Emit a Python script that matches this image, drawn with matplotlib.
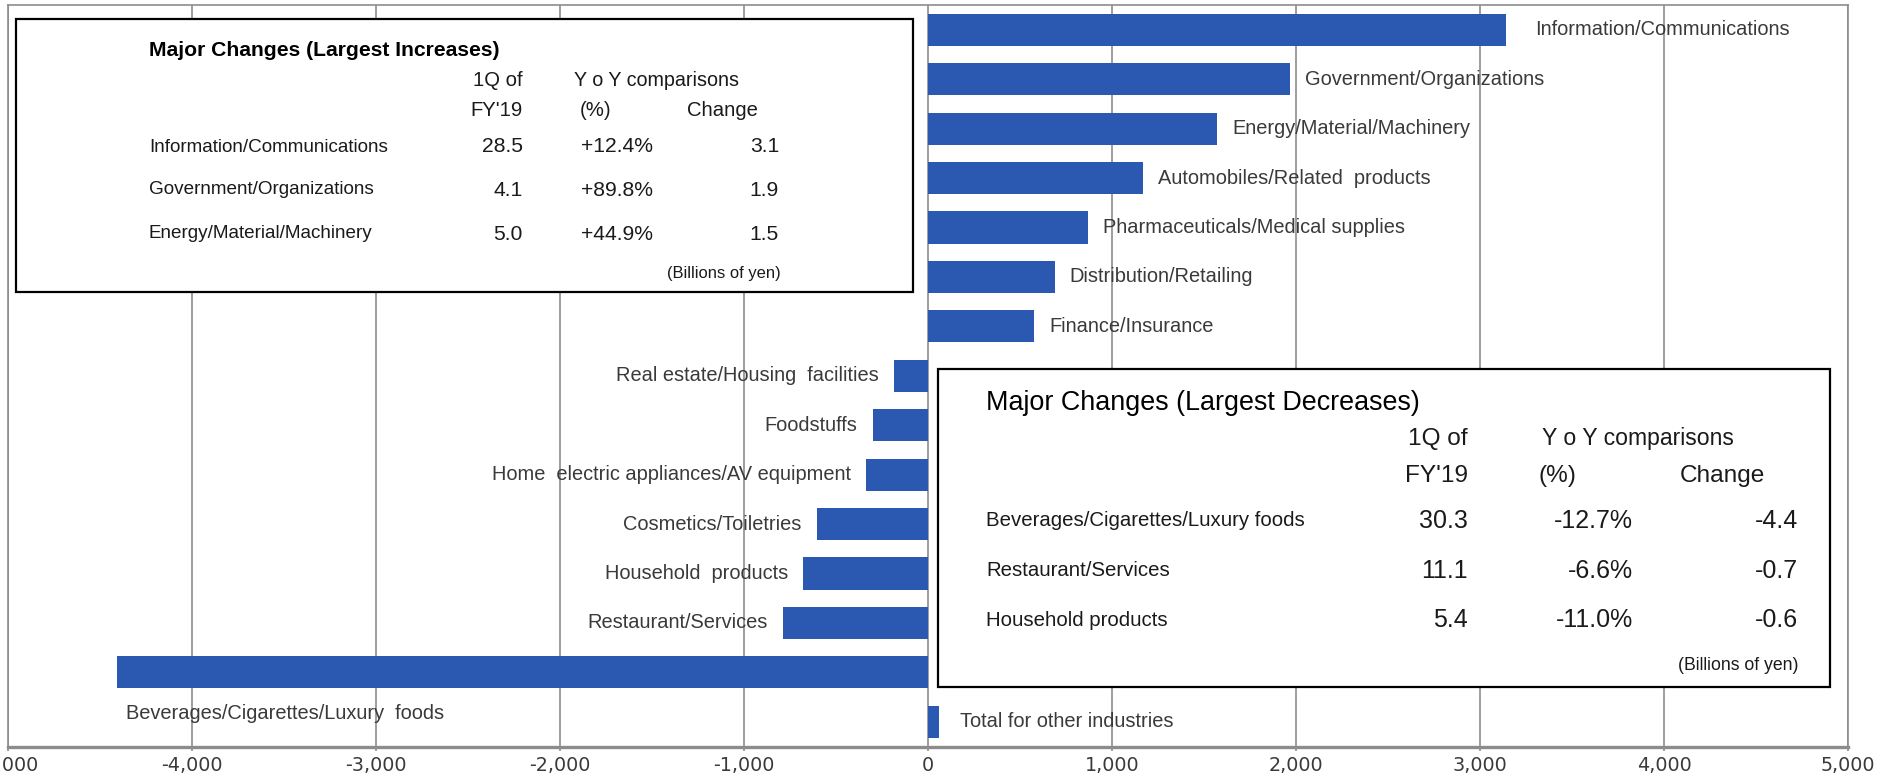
import matplotlib
matplotlib.use("Agg")
import matplotlib.pyplot as plt
from matplotlib.patches import Rectangle
from matplotlib.ticker import FuncFormatter, MultipleLocator

# industry changes vs. previous year (millions of yen)
industries = [
    "Information/Communications",
    "Government/Organizations",
    "Energy/Material/Machinery",
    "Automobiles/Related  products",
    "Pharmaceuticals/Medical supplies",
    "Distribution/Retailing",
    "Finance/Insurance",
    "Real estate/Housing  facilities",
    "Foodstuffs",
    "Home  electric appliances/AV equipment",
    "Cosmetics/Toiletries",
    "Household  products",
    "Restaurant/Services",
    "Beverages/Cigarettes/Luxury  foods",
    "Total for other industries",
]
changes = [3141, 1967, 1573, 1167, 872, 689, 577,
           -185, -299, -337, -603, -679, -788, -4408, 58]

# summary tables (billions of yen)
inc_names = ["Information/Communications", "Government/Organizations", "Energy/Material/Machinery"]
inc_q1 = [28.5, 4.1, 5.0]
inc_yoy = [12.4, 89.8, 44.9]
inc_chg = [3.1, 1.9, 1.5]

dec_names = ["Beverages/Cigarettes/Luxury foods", "Restaurant/Services", "Household products"]
dec_q1 = [30.3, 11.1, 5.4]
dec_yoy = [-12.7, -6.6, -11.0]
dec_chg = [-4.4, -0.7, -0.6]

W, H = 1878, 776
BAR = "#2b58b1"
GRID = "#8c8c8c"
TXT = "#3a3a3a"
LAB = "Liberation Sans"

fig = plt.figure(figsize=(W / 100, H / 100), dpi=100)
ax = fig.add_axes([8 / W, 1 - 746.5 / H, 1840 / W, 741.5 / H])

pos = list(range(len(industries)))
ax.barh(pos, changes, height=0.65, color=BAR, zorder=2)
ax.set_ylim(len(industries) - 0.5, -0.5)
ax.set_xlim(-5000, 5000)
ax.set_yticks([])
ax.xaxis.set_major_locator(MultipleLocator(1000))
ax.xaxis.set_major_formatter(FuncFormatter(lambda v, p: f"{v:,.0f}"))
ax.tick_params(axis="x", direction="out", length=3, width=1.2, color=GRID,
               labelsize=13.8, labelcolor=TXT, pad=4)
for t in ax.get_xticklabels():
    t.set_family("DejaVu Sans")
ax.grid(axis="x", color=GRID, lw=1.2, zorder=0)
ax.set_axisbelow(True)
for s in ["left", "top", "right"]:
    ax.spines[s].set_color(GRID)
    ax.spines[s].set_linewidth(1.2)
ax.spines["bottom"].set_color(GRID)
ax.spines["bottom"].set_linewidth(2.4)

# bar labels
last = len(industries) - 1
for i, (name, v) in enumerate(zip(industries, changes)):
    if name.startswith("Beverages"):
        ax.annotate(name, (v, i), xytext=(6.5, -29.5), textcoords="offset points",
                    ha="left", va="center", fontsize=14.4, family=LAB, color=TXT)
    elif v >= 0:
        gap = 21 if i == 0 else (15 if i == last else 10.8)
        ax.annotate(name, (v, i), xytext=(gap, 0), textcoords="offset points",
                    ha="left", va="center", fontsize=14.4, family=LAB, color=TXT)
    else:
        ax.annotate(name, (v, i), xytext=(-11, 0), textcoords="offset points",
                    ha="right", va="center", fontsize=14.4, family=LAB, color=TXT)


def fx(px):
    return px / W


def fy(py):
    return 1 - py / H


def put(x, y, s, size, ha="left", weight="normal", color="#1a1a1a"):
    fig.text(fx(x), fy(y), s, ha=ha, va="center", fontsize=size,
             family=LAB, weight=weight, color=color, zorder=6)


def box(x0, y0, x1, y1):
    fig.add_artist(Rectangle((fx(x0), fy(y1)), fx(x1) - fx(x0), fy(y0) - fy(y1),
                             transform=fig.transFigure, facecolor="white",
                             edgecolor="black", lw=1.6, zorder=5))


# largest increases
box(16, 19, 913, 292)
put(149, 51, "Major Changes (Largest Increases)", 15.2, weight="bold", color="black")
put(523, 80, "1Q of", 14.6, ha="right")
put(523, 111, "FY'19", 14.6, ha="right")
put(574, 80, "Y o Y comparisons", 14.2)
put(580, 111, "(%)", 14.6)
put(687, 111, "Change", 14.6)
for y, n, q, p, c in zip([147, 190, 234], inc_names, inc_q1, inc_yoy, inc_chg):
    put(149, y, n, 13.6)
    put(523, y, f"{q:.1f}", 15.2, ha="right")
    put(653, y, f"{p:+.1f}%", 15.2, ha="right")
    put(779, y, f"{c:.1f}", 15.2, ha="right")
put(781, 273, "(Billions of yen)", 11.9, ha="right")

# largest decreases
box(938, 369, 1830, 687)
put(986, 403, "Major Changes (Largest Decreases)", 19.4, color="black")
put(1468, 439, "1Q of", 17.6, ha="right")
put(1468, 476, "FY'19", 17.6, ha="right")
put(1542, 439, "Y o Y comparisons", 16.6)
put(1539, 476, "(%)", 17.6)
put(1680, 476, "Change", 17.6)
for y, n, q, p, c in zip([521, 571, 620], dec_names, dec_q1, dec_yoy, dec_chg):
    put(986, y, n, 14.7)
    put(1468, y, f"{q:.1f}", 18, ha="right")
    put(1633, y, f"{p:.1f}%", 18, ha="right")
    put(1798, y, f"{c:.1f}", 18, ha="right")
put(1798, 665, "(Billions of yen)", 12.7, ha="right")

fig.savefig("out.png", dpi=100)
